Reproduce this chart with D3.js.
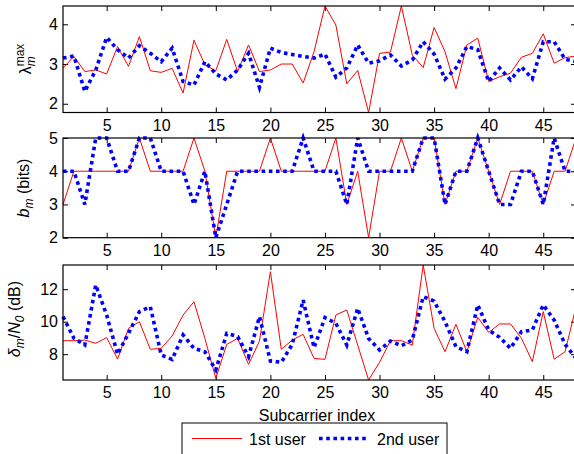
<!DOCTYPE html>
<html>
<head>
<meta charset="utf-8">
<script src="https://cdn.jsdelivr.net/npm/d3@7"></script>
<style>
  body { margin: 0; background: #fff; }
  svg { display: block; font-family: "Liberation Sans", Arial, sans-serif; }
</style>
</head>
<body>
<div id="chart"></div>
<script>
// subcarrier index (x)
const subcarriers = [1,2,3,4,5,6,7,8,9,10,11,12,13,14,15,16,17,18,19,20,21,22,23,24,
                     25,26,27,28,29,30,31,32,33,34,35,36,37,38,39,40,41,42,43,44,45,46,47,48];
const xTicks = [5,10,15,20,25,30,35,40,45];

// lambda_m^max
const lambdaUser1 = [2.90,3.19,2.81,2.85,2.75,3.44,2.94,3.69,2.83,2.79,
                     2.89,2.27,3.60,2.98,2.83,3.62,2.81,3.48,2.81,2.85,
                     3.00,3.00,2.52,3.31,4.46,3.98,2.50,2.84,1.78,3.27,
                     3.30,4.46,3.23,2.91,3.92,3.31,2.38,3.48,3.65,2.56,
                     2.68,2.77,3.17,3.27,3.76,3.02,3.16,3.20];
const lambdaUser2 = [3.15,3.20,2.31,2.85,3.67,3.36,3.15,3.46,3.27,3.06,
                     3.40,2.56,2.47,3.06,2.75,2.60,2.85,3.27,2.41,3.40,
                     3.29,3.24,3.19,3.15,3.25,2.67,2.90,3.48,3.02,3.08,
                     3.23,2.95,3.10,3.56,3.25,2.62,2.90,3.44,3.36,2.56,
                     2.90,2.60,2.93,2.63,3.56,3.56,3.12,3.06];
const lambdaTicks = [2,3,4];

// b_m (bits)
const bitsUser1 = [3,4,4,4,4,4,4,5,4,4, 4,4,5,4,2,4,4,4,4,5,
                   4,4,4,4,4,5,3,4,2,4, 4,5,4,5,5,3,4,4,5,4,
                   3,4,4,4,3,4,4,5];
const bitsUser2 = [4,4,3,5,5,4,4,5,5,4, 4,4,3,4,2,3,4,4,4,4,
                   4,4,5,4,4,4,3,5,4,4, 4,4,4,5,5,3,4,4,5,4,
                   3,3,4,4,3,5,4,4];
const bitsTicks = [2,3,4,5];

// delta_m / N_0 (dB)
const deltaUser1 = [8.83,8.83,8.87,8.67,9.02,7.70,9.59,10.00,8.30,8.36,
                    9.12,10.41,11.23,8.97,6.51,8.60,8.97,7.37,8.81,13.08,
                    8.30,8.87,9.22,7.74,7.68,10.41,10.72,8.56,6.41,7.50,
                    8.83,8.83,8.56,13.49,9.59,8.15,9.84,8.15,10.27,9.34,
                    9.86,9.86,8.98,7.54,10.62,7.69,8.15,10.92];
const deltaUser2 = [10.31,8.98,8.57,12.26,10.41,8.00,9.28,10.62,10.92,7.95,
                    7.68,9.18,8.36,8.15,7.03,9.28,9.08,7.85,10.31,7.58,
                    7.50,8.60,11.33,8.40,10.25,9.90,8.56,10.82,8.97,8.26,
                    8.81,8.52,8.87,11.54,11.27,10.00,8.46,8.15,11.03,9.49,
                    9.04,8.36,9.38,9.49,11.03,10.10,8.60,7.75];
const deltaTicks = [8,10,12];

const seriesNames = ["1st user", "2nd user"];

const W = 574, H = 454;
const left = 63, right = 576;

const svg = d3.select("#chart").append("svg")
    .attr("width", W)
    .attr("height", H);

const x = d3.scaleLinear().domain(d3.extent(subcarriers)).range([left, right]);

const panels = [
    {top: 6,   bottom: 112.5, s1: lambdaUser1, s2: lambdaUser2, ticks: lambdaTicks, label: "lambda", lx: 31, ly: 59},
    {top: 138, bottom: 237.7, s1: bitsUser1,   s2: bitsUser2,   ticks: bitsTicks,   label: "bits",   lx: 29, ly: 188},
    {top: 265, bottom: 380,   s1: deltaUser1,  s2: deltaUser2,  ticks: deltaTicks,  label: "delta",  lx: 20, ly: 319}
];

function styleAxis(g) {
    g.select(".domain").remove();
    g.selectAll("line").attr("stroke", "#000").attr("stroke-width", 1);
    g.selectAll("text").attr("fill", "#000").style("font-size", "16px")
        .style("font-family", '"Liberation Sans", Arial, sans-serif');
}

panels.forEach(p => {
    const y = d3.scaleLinear()
        .domain(d3.extent(p.s1.concat(p.s2)))
        .range([p.bottom, p.top]);

    const g = svg.append("g");

    // x axis (bottom with labels, top ticks only)
    g.append("g")
        .attr("transform", `translate(0,${p.bottom})`)
        .call(d3.axisBottom(x).tickValues(xTicks).tickFormat(d3.format("d"))
            .tickSizeInner(-5).tickSizeOuter(0).tickPadding(7))
        .call(styleAxis);
    g.append("g")
        .attr("transform", `translate(0,${p.top})`)
        .call(d3.axisTop(x).tickValues(xTicks).tickSizeInner(-5).tickSizeOuter(0).tickFormat(""))
        .call(styleAxis);

    // y axis
    g.append("g")
        .attr("transform", `translate(${left},0)`)
        .call(d3.axisLeft(y).tickValues(p.ticks).tickFormat(d3.format("d"))
            .tickSizeInner(-5).tickSizeOuter(0).tickPadding(5))
        .call(styleAxis);
    g.append("g")
        .attr("transform", `translate(${right},0)`)
        .call(d3.axisRight(y).tickValues(p.ticks).tickSizeInner(-5).tickSizeOuter(0).tickFormat(""))
        .call(styleAxis);

    const line = d3.line()
        .x((d, i) => x(subcarriers[i]))
        .y(d => y(d));

    g.append("path")
        .attr("d", line(p.s1))
        .attr("fill", "none")
        .attr("stroke", "#ff0000")
        .attr("stroke-width", 1);

    g.append("path")
        .attr("d", line(p.s2))
        .attr("fill", "none")
        .attr("stroke", "#0000ff")
        .attr("stroke-width", 3.6)
        .attr("stroke-dasharray", "3.6 3.6");

    // box
    g.append("rect")
        .attr("x", left).attr("y", p.top)
        .attr("width", right - left).attr("height", p.bottom - p.top)
        .attr("fill", "none").attr("stroke", "#000").attr("stroke-width", 1.2);

    // y label
    const t = g.append("text")
        .attr("transform", `translate(${p.lx},${p.ly}) rotate(-90)`)
        .attr("text-anchor", "middle")
        .style("font-size", "16px");

    if (p.label === "lambda") {
        t.append("tspan").text("λ");
        t.append("tspan").text("m").style("font-style", "italic").style("font-size", "12px").attr("dy", 4);
        t.append("tspan").text("max").style("font-size", "12px").attr("dx", -10).attr("dy", -11);
    } else if (p.label === "bits") {
        t.append("tspan").text("b").style("font-style", "italic");
        t.append("tspan").text("m").style("font-style", "italic").style("font-size", "12px").attr("dy", 4);
        t.append("tspan").text(" (bits)").attr("dy", -4);
    } else {
        t.append("tspan").text("δ").style("font-style", "italic");
        t.append("tspan").text("m").style("font-style", "italic").style("font-size", "12px").attr("dy", 4);
        t.append("tspan").text("/").attr("dy", -4);
        t.append("tspan").text("N").style("font-style", "italic");
        t.append("tspan").text("0").style("font-style", "italic").style("font-size", "12px").attr("dy", 4);
        t.append("tspan").text(" (dB)").attr("dy", -4);
    }
});

// x label
svg.append("text")
    .attr("x", 317).attr("y", 421)
    .attr("text-anchor", "middle")
    .style("font-size", "16px")
    .text("Subcarrier index");

// legend
const leg = svg.append("g");
leg.append("rect")
    .attr("x", 182).attr("y", 423).attr("width", 265).attr("height", 40)
    .attr("fill", "#fff").attr("stroke", "#000").attr("stroke-width", 1);
leg.append("line")
    .attr("x1", 192).attr("x2", 242).attr("y1", 438.5).attr("y2", 438.5)
    .attr("stroke", "#ff0000").attr("stroke-width", 1);
leg.append("text")
    .attr("x", 249).attr("y", 444.5).style("font-size", "16px").text(seriesNames[0]);
leg.append("line")
    .attr("x1", 319).attr("x2", 369).attr("y1", 438.5).attr("y2", 438.5)
    .attr("stroke", "#0000ff").attr("stroke-width", 3.6).attr("stroke-dasharray", "3.6 3.6");
leg.append("text")
    .attr("x", 377).attr("y", 444.5).style("font-size", "16px").text(seriesNames[1]);
</script>
</body>
</html>
